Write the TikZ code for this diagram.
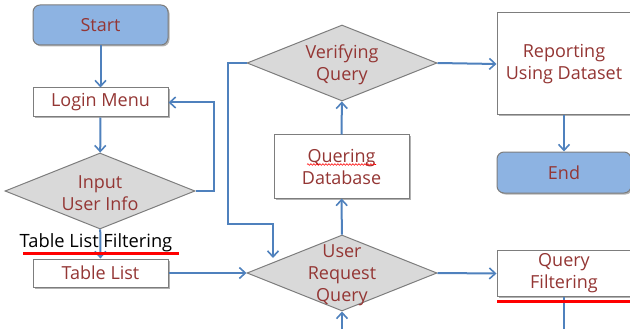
\documentclass[tikz,border=0pt]{standalone}
\usepackage{fontspec}
\setmainfont{Open Sans}
\usetikzlibrary{shapes.geometric,arrows.meta,shadows,decorations.pathmorphing}

\definecolor{termblue}{RGB}{141,179,226}
\definecolor{boxgray}{RGB}{125,125,125}
\definecolor{flowblue}{RGB}{79,129,189}
\definecolor{textred}{RGB}{148,54,52}
\definecolor{diagray}{RGB}{217,217,217}

\tikzset{every picture/.style={line width=0.75pt}}
\tikzset{
  shade/.style={drop shadow={shadow xshift=1.5pt,shadow yshift=-1.5pt,opacity=0.3,fill=black}},
  term/.style={rounded corners=7pt,draw=boxgray,line width=1pt,fill=termblue,shade,
    minimum width=135pt,minimum height=40pt,text=textred,font=\fontsize{18}{22}\selectfont},
  box/.style={draw=boxgray,line width=1pt,fill=white,shade,align=center,
    minimum width=135pt,text=textred,font=\fontsize{18}{22}\selectfont},
  dia/.style={shape=diamond,draw=boxgray,line width=1pt,fill=diagray,inner sep=0pt,
    minimum width=190pt,minimum height=76pt},
  diatext/.style={align=center,text=textred,yshift=-2pt,font=\fontsize{18}{22}\selectfont},
  flow/.style={draw=flowblue,line width=2pt,-{Straight Barb[length=6pt,width=11pt,line width=1.6pt]}},
  plain/.style={draw=flowblue,line width=2pt},
  redmark/.style={draw=red,line width=3pt},
}

\begin{document}
\begin{tikzpicture}[x=1pt,y=-1pt]
	\useasboundingbox (0,0) rectangle (630,329);
	\clip (0,0) rectangle (630,329);
	%Cot trai
	\node[term] (start) at (100.5,25) {Start};
	\node[box,minimum height=29pt] (login) at (100.5,102.5) {Login Menu};
	\node[dia] (input) at (100,191) {};
	\node[diatext] (input-t) at (input) {Input\\User Info};
	\node[font=\fontsize{18.3}{22}\selectfont] (filt) at (96,243) {Table List Filtering};
	\node[box,minimum height=28pt] (tlist) at (100.5,273) {Table List};
	%Cot giua
	\node[dia] (verify) at (342,63) {};
	\node[diatext] (verify-t) at (verify) {Verifying\\Query};
	\node[box,minimum height=63pt] (qdb) at (341.5,166.5) {Quering\\Database};
	\node[dia] (urq) at (342,273) {};
	\node[diatext] (urq-t) at (urq) {User\\Request\\Query};
	%Cot phai
	\node[box,minimum width=134pt,minimum height=102pt] (report) at (564,64) {Reporting\\Using Dataset};
	\node[term,minimum width=134pt,minimum height=41pt] (end) at (564,172.5) {End};
	\node[box,minimum width=134pt,minimum height=45pt] (qf) at (564,273.5) {Query\\Filtering};
	%Diem ngoai
	\coordinate (back) at (273,258);
	\coordinate (below) at (342,335);
	\coordinate (qfout) at (564,335);
	%Mui ten
	\draw[flow] (start) -- (login);
	\draw[flow] (login) -- (input);
	\draw[flow] (input) -- (tlist);
	\draw[flow] (input.east) -- ++(18,0) |- (login.east);
	\draw[flow] (tlist.east) -- (urq.west);
	\draw[flow] (urq) -- (qdb);
	\draw[flow] (qdb) -- (verify);
	\draw[flow] (verify.west) -- ++(-19,0) -- ++(0,161) -| (back);
	\draw[flow] (verify.east) -- (report.west);
	\draw[flow] (report) -- (end);
	\draw[flow] (urq.east) -- (qf.west);
	\draw[flow] (below) -- (urq.south);
	\draw[plain] (qf.south) -- (qfout);
	%Gach do
	\draw[redmark] (23,253) -- (179,253);
	\draw[redmark] (497,301) -- (632,301);
	\draw[red,line width=0.6pt,decorate,decoration={snake,amplitude=0.8pt,segment length=3pt}] (307,164.5) -- (376,164.5);
\end{tikzpicture}
\end{document}
